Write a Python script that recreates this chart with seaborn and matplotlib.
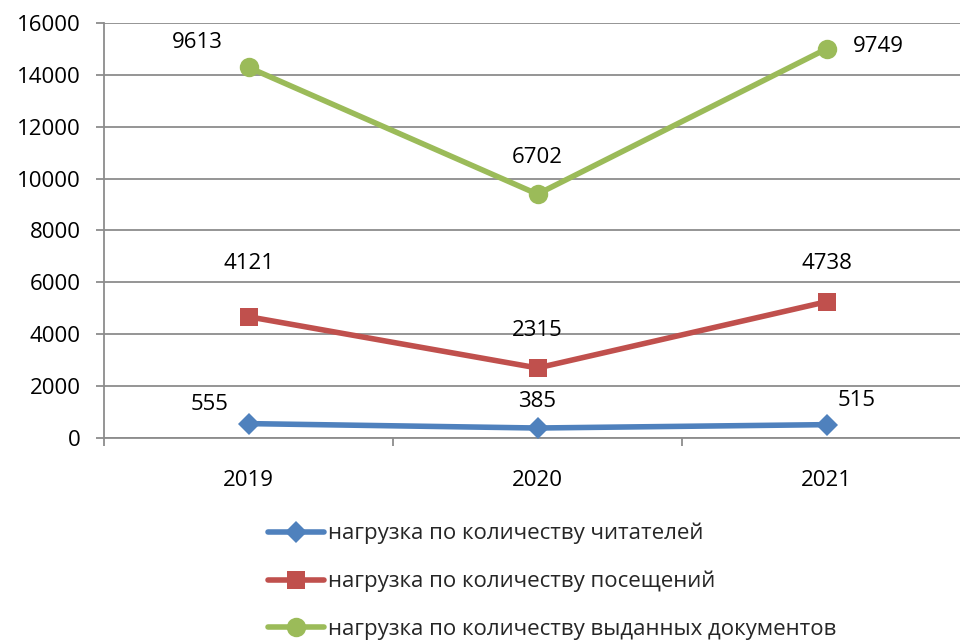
import numpy as np
import pandas as pd
import matplotlib
matplotlib.use("Agg")
import matplotlib.pyplot as plt
import seaborn as sns

# ---- data ----
years = ["2019", "2020", "2021"]
series_names = [
    "нагрузка по количеству читателей",
    "нагрузка по количеству посещений",
    "нагрузка по количеству выданных документов",
]
readers = [555, 385, 515]
visits = [4121, 2315, 4738]
documents = [9613, 6702, 9749]
y_ticks = [0, 2000, 4000, 6000, 8000, 10000, 12000, 14000, 16000]

# ---- styles ----
colors = ["#4F81BD", "#C0504D", "#9BBB59"]
markers = ["D", "s", "o"]
msizes = [11, 13, 14]
# label offsets in pixels (dx, dy) for each series / year
label_offsets = [
    [(-39, 19), (0, 27), (30, 24)],
    [(0, 53), (0, 37), (0, 38)],
    [(-51, 25), (0, 37), (52, 2)],
]

sns.set_theme(style="white")
plt.rcParams["font.family"] = ["Open Sans", "DejaVu Sans"]
FS = 16

fig = plt.figure(figsize=(9.6, 6.4), dpi=100)
ax = fig.add_axes([104 / 960, 202 / 640, 867 / 960, 415 / 640])

raw = [readers, visits, documents]
stacked = np.cumsum(np.array(raw, dtype=float), axis=0)
x = np.arange(len(years))

rows = []
for name, vals in zip(series_names, stacked):
    for xi, v in zip(x, vals):
        rows.append({"x": xi, "y": v, "series": name})
df = pd.DataFrame(rows)

for i, name in enumerate(series_names):
    sub = df[df["series"] == name]
    sns.lineplot(data=sub, x="x", y="y", ax=ax, color=colors[i], linewidth=4,
                 marker=markers[i], markersize=msizes[i], markeredgewidth=0,
                 label=name, legend=False, zorder=3)
    for j in range(len(years)):
        dx, dy = label_offsets[i][j]
        ax.annotate(f"{raw[i][j]}", (x[j], stacked[i][j]), xytext=(dx, dy),
                    textcoords="offset pixels", ha="center", va="center",
                    fontsize=FS, color="black", zorder=4)

ax.set_xlim(-0.5, 2.5)
ax.set_ylim(0, 16000)
ax.set_yticks(y_ticks)
ax.set_yticklabels([str(t) for t in y_ticks])
ax.set_xticks(x)
ax.set_xticklabels(years)
ax.set_xticks([-0.5, 0.5, 1.5, 2.5], minor=True)
ax.set_xlabel("")
ax.set_ylabel("")

ax.grid(axis="y", color="#8c8c8c", linewidth=1.3, zorder=0)
ax.grid(axis="x", visible=False)
for s in ["top", "right"]:
    ax.spines[s].set_visible(False)
for s in ["left", "bottom"]:
    ax.spines[s].set_color("#8c8c8c")
    ax.spines[s].set_linewidth(1.3)

ax.tick_params(axis="y", which="major", left=True, length=6, width=1.3,
               color="#8c8c8c", labelsize=FS, pad=11, labelcolor="black")
ax.tick_params(axis="x", which="major", bottom=False, length=0,
               labelsize=FS, pad=23, labelcolor="black")
ax.tick_params(axis="x", which="minor", bottom=True, length=6, width=1.3,
               color="#8c8c8c")

handles, labels = ax.get_legend_handles_labels()
leg = fig.legend(handles, labels, loc="upper left",
                 bbox_to_anchor=(268 / 960, 1 - 523 / 640),
                 frameon=False, fontsize=FS, handlelength=2.5,
                 handletextpad=0.2, labelspacing=1.19, borderpad=0,
                 borderaxespad=0)

fig.savefig("out.png", dpi=100)
